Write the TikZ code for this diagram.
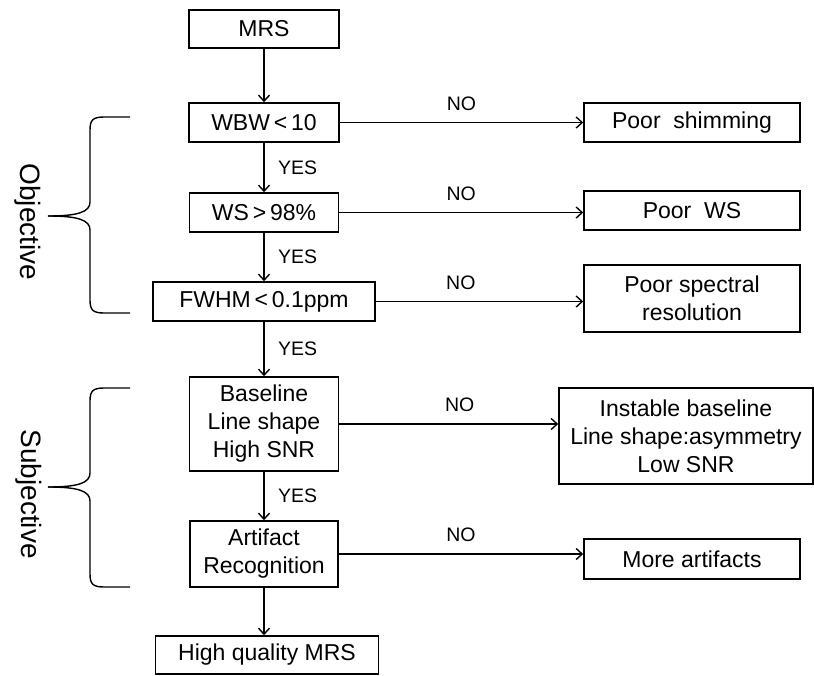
\documentclass[tikz,border=0pt]{standalone}
\usepackage{fontspec}
\setmainfont{Liberation Sans}
\usetikzlibrary{arrows.meta}

\tikzset{
  box/.style={draw,line width=1.6pt,inner sep=0pt,align=center,
    font=\fontsize{23}{28}\selectfont},
  lbl/.style={font=\fontsize{19.5}{22}\selectfont},
  flow/.style={line width=1.4pt,-{Straight Barb[length=6pt,width=11pt,line width=1.4pt]}},
  brc/.style={line width=1.4pt},
  side/.style={font=\fontsize{28}{30}\selectfont,rotate=-90}
}

\begin{document}
\begin{tikzpicture}[x=1pt,y=-1pt]
\useasboundingbox (0,0) rectangle (814,675);

% left column
\node[box,minimum width=150,minimum height=38] (mrs) at (264,29) {MRS};
\node[box,minimum width=150,minimum height=39] (wbw) at (264,122.5) {WBW\,<\,10};
\node[box,minimum width=149,minimum height=39] (ws) at (264,212.5) {WS\,>\,98\%};
\node[box,minimum width=222,minimum height=39] (fwhm) at (264,301.5) {FWHM\,<\,0.1ppm};
\node[box,minimum width=149,minimum height=94] (base) at (264,424) {Baseline\\Line shape\\High SNR};
\node[box,minimum width=148,minimum height=66] (artif) at (264,554) {Artifact\\Recognition};
\node[box,minimum width=223,minimum height=38] (hq) at (267,655) {High quality MRS};

% right column
\node[box,minimum width=216,minimum height=39] (shim) at (692,122.5) {Poor\ \ shimming};
\node[box,minimum width=216,minimum height=39] (pws) at (692,210.5) {Poor\ \ WS};
\node[box,minimum width=216,minimum height=67] (pres) at (692,298.5) {Poor spectral\\resolution};
\node[box,minimum width=254,minimum height=96] (inst) at (686,436) {Instable baseline\\Line shape:asymmetry\\Low SNR};
\node[box,minimum width=216,minimum height=40] (more) at (692,559) {More artifacts};

% yes path
\draw[flow] (mrs.south) -- (wbw.north);
\draw[flow] (wbw.south) -- (ws.north) node[lbl,midway,right=10pt] {YES};
\draw[flow] (ws.south) -- (fwhm.north) node[lbl,midway,right=10pt] {YES};
\draw[flow] (fwhm.south) -- (base.north) node[lbl,midway,right=10pt] {YES};
\draw[flow] (base.south) -- (artif.north) node[lbl,midway,right=10pt] {YES};
\draw[flow] (artif.south) -- (hq.north -| artif.south);

% no path
\draw[flow] (wbw.east) -- (wbw.east -| shim.west) node[lbl,pos=0.5,above=8pt] {NO};
\draw[flow] (ws.east) -- (ws.east -| pws.west) node[lbl,pos=0.5,above=8pt] {NO};
\draw[flow] (fwhm.east) -- (fwhm.east -| pres.west) node[lbl,pos=0.41,above=8pt] {NO};
\draw[flow] (base.east) -- (base.east -| inst.west) node[lbl,pos=0.55,above=8pt] {NO};
\draw[flow] (artif.east) -- (artif.east -| more.west) node[lbl,pos=0.5,above=8pt] {NO};

% braces
\coordinate (otop) at (130,117);
\coordinate (obot) at (130,313);
\coordinate (otip) at (48,216);
\draw[brc] (otop) -- (104,117) .. controls (93,117) and (90,120) .. (90,130)
  -- (90,202) .. controls (90,212) and (78,216) .. (otip);
\draw[brc] (obot) -- (104,313) .. controls (93,313) and (90,310) .. (90,300)
  -- (90,230) .. controls (90,220) and (78,216) .. (otip);
\node[side] (obj) at (28,222) {Objective};

\coordinate (stop) at (130,388);
\coordinate (sbot) at (130,587);
\coordinate (stip) at (48,487);
\draw[brc] (stop) -- (104,388) .. controls (93,388) and (90,391) .. (90,401)
  -- (90,473) .. controls (90,483) and (78,487) .. (stip);
\draw[brc] (sbot) -- (104,587) .. controls (93,587) and (90,584) .. (90,574)
  -- (90,501) .. controls (90,491) and (78,487) .. (stip);
\node[side] (subj) at (29,494) {Subjective};
\end{tikzpicture}
\end{document}
